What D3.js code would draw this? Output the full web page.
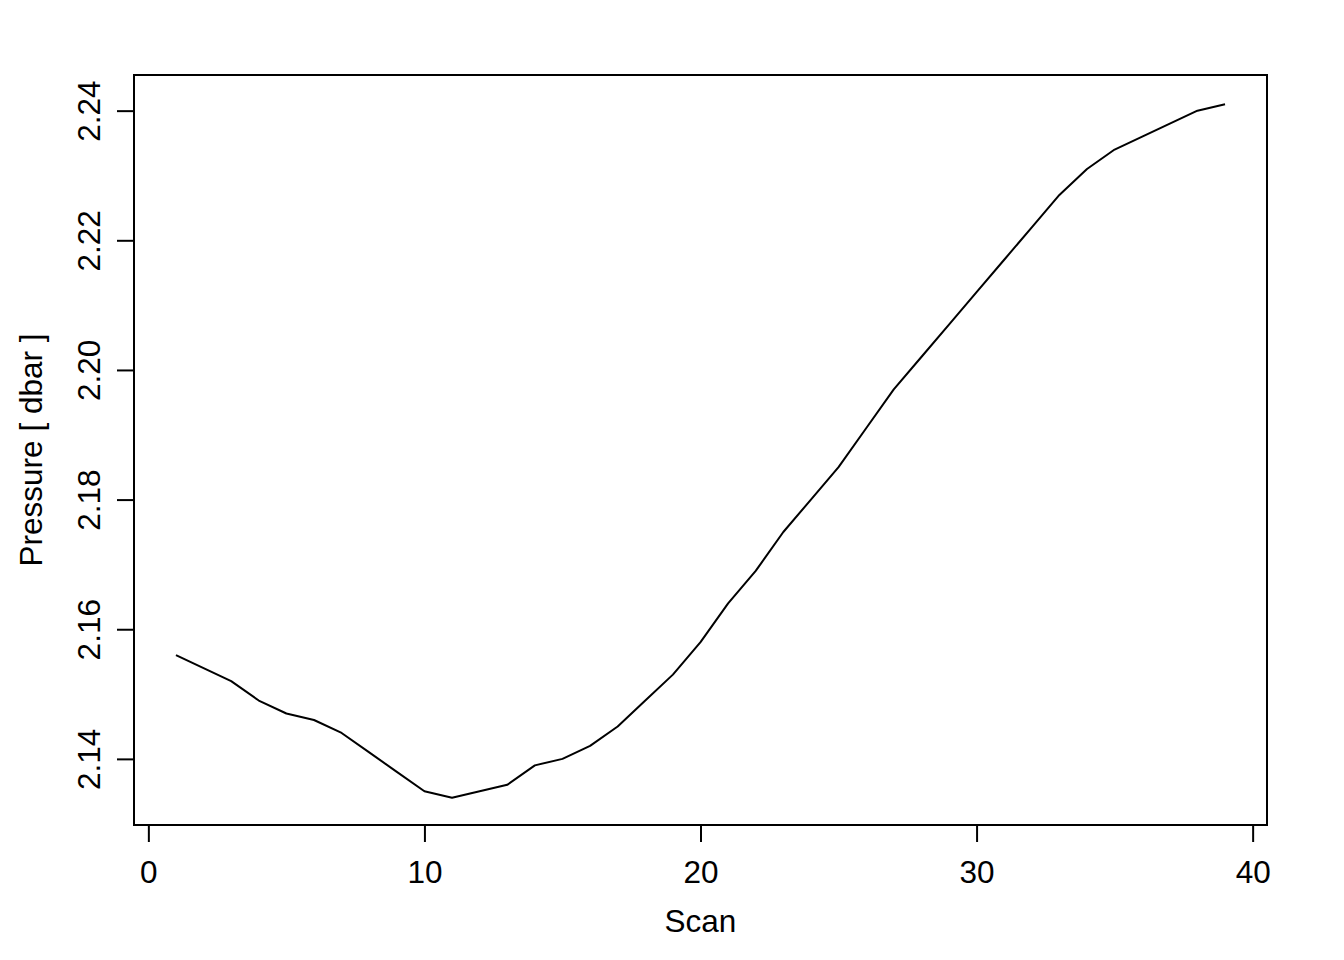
<!DOCTYPE html>
<html>
<head>
<meta charset="utf-8">
<script src="https://cdn.jsdelivr.net/npm/d3@7"></script>
<style>
  html, body { margin: 0; padding: 0; background: #fff; }
  svg { display: block; font-family: "Liberation Sans", Arial, sans-serif; }
</style>
</head>
<body>
<svg id="chart"></svg>
<script>
// scan index and pressure
var scan = [1, 2, 3, 4, 5, 6, 7, 8, 9, 10, 11, 12, 13, 14, 15, 16, 17, 18, 19, 20,
            21, 22, 23, 24, 25, 26, 27, 28, 29, 30, 31, 32, 33, 34, 35, 36, 37, 38, 39];
var pressure = [2.156, 2.154, 2.152, 2.149, 2.147, 2.146, 2.144, 2.141, 2.138, 2.135,
                2.134, 2.135, 2.136, 2.139, 2.140, 2.142, 2.145, 2.149, 2.153, 2.158,
                2.164, 2.169, 2.175, 2.180, 2.185, 2.191, 2.197, 2.202, 2.207, 2.212,
                2.217, 2.222, 2.227, 2.231, 2.234, 2.236, 2.238, 2.240, 2.241];
var xTicks = [0, 10, 20, 30, 40];
var yTicks = [2.14, 2.16, 2.18, 2.20, 2.22, 2.24];
var xLabel = "Scan";
var yLabel = "Pressure [ dbar ]";

var size = {w: 1344, h: 960};
var margin = {top: 75, right: 77, bottom: 135, left: 134};
var width = size.w - margin.left - margin.right;
var height = size.h - margin.top - margin.bottom;
var fontSize = 31.5;

var svg = d3.select("#chart")
  .attr("width", size.w)
  .attr("height", size.h);

svg.append("rect").attr("width", size.w).attr("height", size.h).style("fill", "#fff");

var g = svg.append("g").attr("transform", "translate(" + margin.left + "," + margin.top + ")");

// R style 4% padding around the data range
var x = d3.scaleLinear().domain([-0.52, 40.52]).range([0, width]);
var y = d3.scaleLinear().domain([2.1298, 2.2455]).range([height, 0]);

var line = d3.line()
  .x(function(d, i) { return x(scan[i]); })
  .y(function(d) { return y(d); });

g.append("path")
  .datum(pressure)
  .style("fill", "none")
  .style("stroke", "#000")
  .style("stroke-width", 2)
  .style("stroke-linejoin", "round")
  .attr("d", line);

// Axes
var xAxis = g.append("g")
  .attr("transform", "translate(0," + height + ")")
  .call(d3.axisBottom(x).tickValues(xTicks).tickSize(17).tickFormat(d3.format("d")));
xAxis.select(".domain").remove();
xAxis.selectAll(".tick line").style("stroke", "#000").style("stroke-width", 2);
xAxis.selectAll("text")
  .attr("y", 58).attr("dy", 0)
  .style("font-size", fontSize + "px")
  .style("font-family", "Liberation Sans, Arial, sans-serif")
  .style("fill", "#000");

var yAxis = g.append("g")
  .call(d3.axisLeft(y).tickValues(yTicks).tickSize(17).tickFormat(d3.format(".2f")));
yAxis.select(".domain").remove();
yAxis.selectAll(".tick line").style("stroke", "#000").style("stroke-width", 2);
yAxis.selectAll("text")
  .attr("x", 0).attr("y", 0).attr("dy", 0)
  .attr("transform", "translate(-34,0) rotate(-90)")
  .style("text-anchor", "middle")
  .style("font-size", fontSize + "px")
  .style("font-family", "Liberation Sans, Arial, sans-serif")
  .style("fill", "#000");

// Axis labels
g.append("text")
  .attr("x", width / 2)
  .attr("y", height + 107)
  .style("text-anchor", "middle")
  .style("font-size", fontSize + "px")
  .text(xLabel);

g.append("text")
  .attr("transform", "translate(-92.5," + (height / 2) + ") rotate(-90)")
  .style("text-anchor", "middle")
  .style("font-size", fontSize + "px")
  .text(yLabel);

// Plot box
g.append("rect")
  .attr("x", 0).attr("y", 0)
  .attr("width", width).attr("height", height)
  .style("fill", "none")
  .style("stroke", "#000")
  .style("stroke-width", 2);
</script>
</body>
</html>
